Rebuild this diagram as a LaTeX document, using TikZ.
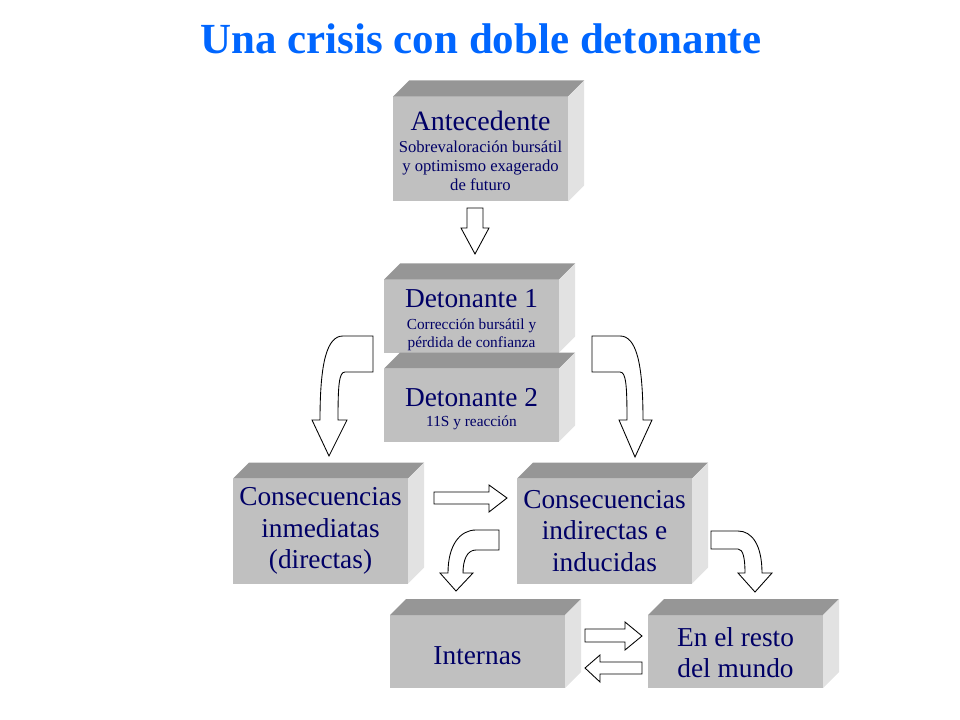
\documentclass[tikz,border=0pt]{standalone}
\usepackage{fontspec}
\setmainfont{Liberation Serif}
\usepackage{tikz}
\usetikzlibrary{shapes,positioning,calc}
\usetikzlibrary{arrows.meta}
\definecolor{frente}{RGB}{192,192,192}
\definecolor{arriba}{RGB}{150,150,150}
\definecolor{lado}{RGB}{226,226,226}
\definecolor{azuloscuro}{RGB}{0,0,102}
\definecolor{azultitulo}{RGB}{0,102,255}
\newcommand{\grande}{\fontsize{20.5}{23.8}\selectfont}
\newcommand{\chico}{\fontsize{11.5}{14}\selectfont}
\newcommand{\medio}{\fontsize{12.5}{14.3}\selectfont}
\newcommand{\bajar}[1]{\rule{0pt}{#1}}
\tikzstyle{caja} = [rectangle, fill=frente, text=azuloscuro, align=center,
minimum width=131.25pt, inner sep=0pt, outer sep=0pt, font=\grande]
\tikzstyle{alta} = [minimum height=78.75pt]
\tikzstyle{baja} = [minimum height=54.75pt]
\tikzstyle{bloque} = [draw=black, fill=white, line width=0.65pt, line join=miter]
\begin{document}
\begin{tikzpicture}[x=0.75pt,y=-0.75pt]
						\useasboundingbox (0,0) rectangle (960,720);
						\node (titulo) at (481,54) [anchor=base, text=azultitulo, font=\fontsize{32.2}{38}\selectfont\bfseries] {Una crisis con doble detonante};
						% cajas
						\node (ante) at (480.5,149) [caja, alta, font=\medio] {{\fontsize{21}{24}\selectfont\bajar{17.5pt}Antecedente}\\[1.5pt] Sobrevaloración bursátil\\ y optimismo exagerado\\ de futuro};
						\node (det1) at (471.5,316) [caja, baja, font=\chico] {{\grande\bajar{20pt}Detonante 1}\\[2pt] Corrección bursátil y\\ pérdida de confianza};
						\node (det2) at (471.5,405) [caja, baja, font=\chico] {{\grande\bajar{20pt}Detonante 2}\\[1pt] 11S y reacción};
						\node (consi) at (320.5,531) [caja, alta] {Consecuencias\\ inmediatas\\ (directas)};
						\node (consd) at (604.5,531) [caja, alta] {Consecuencias\\ indirectas e\\ inducidas};
						\node (inter) at (477.5,651.5) [caja, baja] {\bajar{19.5pt}Internas};
						\node (resto) at (735.5,651.5) [caja, baja] {\bajar{16pt}En el resto\\ del mundo};
						\foreach \c in {ante,det1,det2,consi,consd,inter,resto}{
							\fill[arriba] (\c.north west) -- ++(16,-16) -- ($(\c.north east)+(16,-16)$) -- (\c.north east) -- cycle;
							\fill[lado] (\c.north east) -- ++(16,-16) -- ($(\c.south east)+(16,-16)$) -- (\c.south east) -- cycle;
						}
						% flechas
						\draw[bloque] (467,208) -- (483,208) -- (483,228) -- (489,228) -- (475,254) -- (461,228) -- (467,228) -- cycle;
						\draw[bloque] (373,336) -- (373,372) -- (345,372) .. controls (339,372) and (338,385) .. (338,420) -- (347,420) -- (329,456) -- (312,420) -- (320,420) .. controls (320,362) and (327,336) .. (343,336) -- cycle;
						\draw[bloque] (592,336) -- (592,372) -- (620,372) .. controls (626,372) and (627,385) .. (627,420) -- (619,420) -- (635,457) -- (652,420) -- (643,420) .. controls (643,362) and (636,336) .. (620,336) -- cycle;
						\draw[bloque] (434,492) -- (489,492) -- (489,485) -- (507,498) -- (489,512) -- (489,504) -- (434,504) -- cycle;
						\draw[bloque] (499,530) -- (499,550) -- (476,550) .. controls (467,550) and (463,560) .. (463,573) -- (473,573) -- (456,591) -- (440,573) -- (448,573) .. controls (448,545) and (460,530) .. (476,530) -- cycle;
						\draw[bloque] (711,531) -- (711,549) -- (738,549) .. controls (743,549) and (745,558) .. (745,573) -- (738,573) -- (755,592) -- (772,573) -- (762,573) .. controls (762,545) and (752,531) .. (738,531) -- cycle;
						\draw[bloque] (585,629) -- (625,629) -- (625,622) -- (642,636) -- (625,650) -- (625,642) -- (585,642) -- cycle;
						\draw[bloque] (642,662) -- (600,662) -- (600,655) -- (585,668) -- (600,682) -- (600,674) -- (642,674) -- cycle;
					\end{tikzpicture}
\end{document}
